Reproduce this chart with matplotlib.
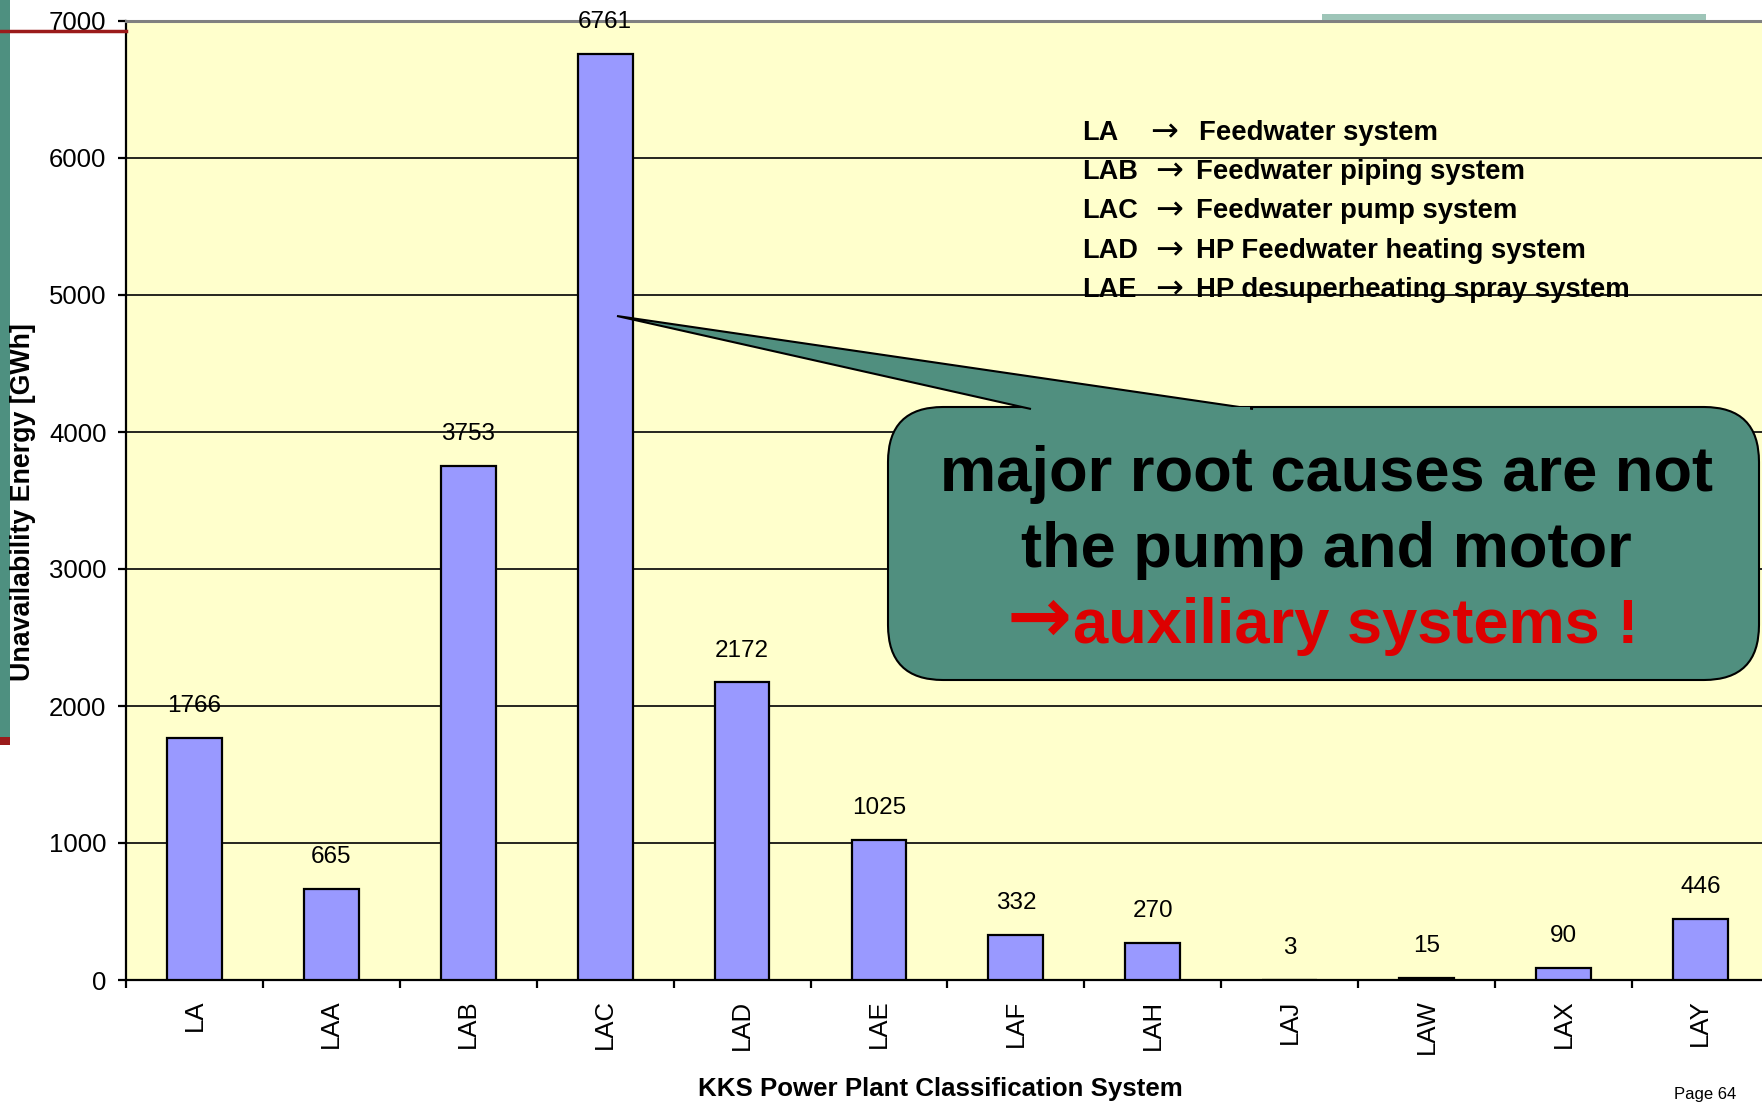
import matplotlib
matplotlib.use("Agg")
import matplotlib.pyplot as plt
from matplotlib import font_manager
from matplotlib.patches import FancyBboxPatch, Polygon, Rectangle
from matplotlib.lines import Line2D

# ---- data ----
categories = ["LA", "LAA", "LAB", "LAC", "LAD", "LAE", "LAF", "LAH", "LAJ", "LAW", "LAX", "LAY"]
values = [1766, 665, 3753, 6761, 2172, 1025, 332, 270, 3, 15, 90, 446]
y_ticks = [0, 1000, 2000, 3000, 4000, 5000, 6000, 7000]
legend_codes = ["LA", "LAB", "LAC", "LAD", "LAE"]
legend_desc = ["Feedwater system", "Feedwater piping system", "Feedwater pump system",
               "HP Feedwater heating system", "HP desuperheating spray system"]
callout_lines = ["major root causes are not", "the pump and motor"]
callout_arrow = "\u2192"
callout_red = "auxiliary systems !"
x_title = "KKS Power Plant Classification System"
y_title = "Unavailability Energy [GWh]"

names = {f.name for f in font_manager.fontManager.ttflist}
REG = ["Liberation Sans", "DejaVu Sans"]
NARROW = (["Liberation Sans Narrow"] if "Liberation Sans Narrow" in names else []) + REG
plt.rcParams["font.family"] = REG

W, H = 1762, 1102
fig = plt.figure(figsize=(W / 100, H / 100), dpi=100)
fig.patch.set_facecolor("white")

def fx(px):
    return px / W

def fy(py):
    return 1 - py / H

# axes: left 126px, top 21px, bottom 980px, 137px per category
ax_left, ax_top, ax_bot, cat_w = 126, 21, 980, 136.9
ax = fig.add_axes([fx(ax_left), fy(ax_bot), 12 * cat_w / W, (ax_bot - ax_top) / H])
ax.set_facecolor("#FFFFCC")

xs = list(range(len(categories)))
ax.bar(xs, values, width=0.4, color="#9999FF", edgecolor="black", linewidth=1.6, zorder=3)
for x, v in zip(xs, values):
    ax.annotate(str(v), xy=(x, v), xytext=(0, 15), textcoords="offset points",
                ha="center", va="bottom", fontsize=17.5, family=REG, zorder=4)

ax.set_xlim(-0.5, len(categories) - 0.5)
ax.set_ylim(0, 7000)
ax.set_yticks(y_ticks)
ax.set_yticklabels([str(t) for t in y_ticks], fontsize=18.5)
ax.yaxis.grid(True, color="black", linewidth=1.2, zorder=0)
ax.set_axisbelow(True)

ax.set_xticks(xs)
ax.set_xticklabels(categories, rotation=90, fontsize=18.5)
ax.set_xticks([i - 0.5 for i in range(len(categories) + 1)], minor=True)
ax.tick_params(axis="x", which="major", length=0, pad=14)
ax.tick_params(axis="x", which="minor", length=6, width=1.6, direction="out")
ax.tick_params(axis="y", which="major", length=6, width=1.6, direction="out", pad=8)

ax.spines["right"].set_visible(False)
ax.spines["left"].set_linewidth(1.6)
ax.spines["bottom"].set_linewidth(1.6)
ax.spines["top"].set_color("#808080")
ax.spines["top"].set_linewidth(2.2)

# legend-like text block
leg_y = [133, 172, 211, 251, 290]
for code, desc, yy in zip(legend_codes, legend_desc, leg_y):
    fig.text(fx(1082), fy(yy), code, ha="left", va="center", fontsize=19.5,
             fontweight="bold", family=NARROW, zorder=5)
    fig.text(fx(1164 if code == "LA" else 1169), fy(yy - 1), "\u2192", ha="center", va="center",
             fontsize=24, family=["DejaVu Sans"], zorder=5)
    fig.text(fx(1199 if code == "LA" else 1196), fy(yy), desc, ha="left", va="center",
             fontsize=19.8, fontweight="bold", family=NARROW, zorder=5)

# callout
teal = "#508F7F"
box_l, box_r, box_t, box_b = 888, 1759, 407, 680
rad = 55
box = FancyBboxPatch((fx(box_l + rad), fy(box_b) + rad / H),
                     fx(box_r - box_l - 2 * rad), (box_b - box_t - 2 * rad) / H,
                     boxstyle=f"round,pad={rad / W}", transform=fig.transFigure,
                     facecolor=teal, edgecolor="black", linewidth=1.5, zorder=6,
                     mutation_aspect=W / H)
fig.patches.append(box)

tip = (617, 316)
b1, b2 = (1031, 409), (1253, 409)
poly = Polygon([(fx(b1[0]), fy(b1[1])), (fx(tip[0]), fy(tip[1])), (fx(b2[0]), fy(b2[1]))],
               closed=False, transform=fig.transFigure, facecolor=teal,
               edgecolor="black", linewidth=1.5, zorder=7)
fig.patches.append(poly)
# cover edge of box under pointer base
fig.patches.append(Polygon([(fx(b1[0] + 3), fy(b1[1] + 3)), (fx(b2[0] - 3), fy(b2[1] + 3)),
                            (fx(b2[0] - 3), fy(b2[1] - 2)), (fx(b1[0] + 3), fy(b1[1] - 2))],
                           transform=fig.transFigure, facecolor=teal, edgecolor="none",
                           zorder=8))

cl_y = [474, 550]
for line, yy in zip(callout_lines, cl_y):
    fig.text(fx(1326), fy(yy), line, ha="center", va="center", fontsize=45.5,
             fontweight="bold", color="black", family=NARROW, zorder=9)
red = "#DD0000"
fig.text(fx(1073), fy(626), callout_red, ha="left", va="center", fontsize=45.5,
         fontweight="bold", color=red, family=NARROW, zorder=9)
fig.text(fx(1072), fy(620), callout_arrow, ha="right", va="center", fontsize=56,
         fontweight="bold", color=red, family=["DejaVu Sans"], zorder=9)

# axis titles
fig.text(fx(940), fy(1089), x_title, ha="center", va="center", fontsize=18.6,
         fontweight="bold", family=NARROW)
fig.text(fx(23), fy(502), y_title, ha="center", va="center", rotation=90,
         fontsize=19.3, fontweight="bold", family=REG)
fig.text(fx(1674), fy(1095), "Page 64", ha="left", va="center", fontsize=12, family=REG)

# slide decorations
fig.patches.append(Rectangle((0, fy(737)), fx(10), 737 / H, transform=fig.transFigure,
                             facecolor="#4E9080", edgecolor="none", zorder=1))
fig.patches.append(Rectangle((0, fy(745)), fx(10), 8 / H, transform=fig.transFigure,
                             facecolor="#9B1B1B", edgecolor="none", zorder=1))
fig.lines.append(Line2D([0, fx(126)], [fy(30.5), fy(30.5)], transform=fig.transFigure,
                        color="#9B1B1B", linewidth=2.5, zorder=2))
fig.patches.append(Rectangle((fx(1322), fy(20)), fx(384), 6 / H, transform=fig.transFigure,
                             facecolor="#9EC5B8", edgecolor="none", zorder=1))

fig.savefig("out.png", dpi=100)
